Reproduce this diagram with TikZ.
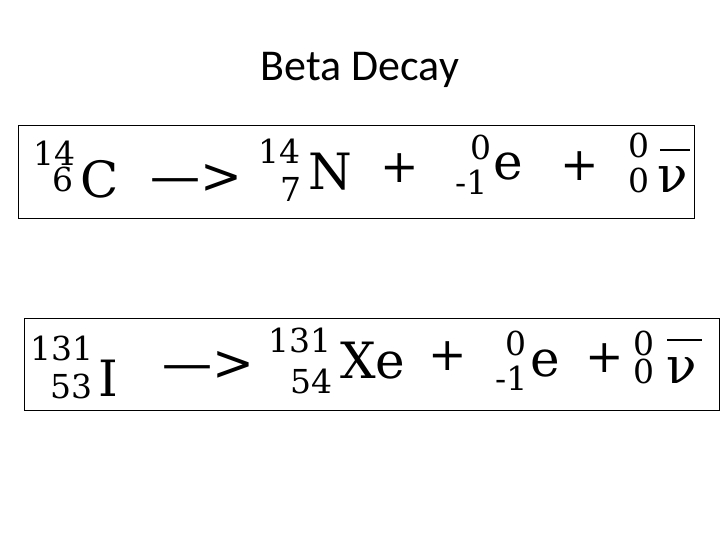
\documentclass[tikz,border=0pt]{standalone}
\usepackage{fontspec}
\setmainfont{DejaVu Serif}
\newfontfamily\titlefont{Carlito}
\begin{document}
\begin{tikzpicture}[x=1pt,y=-1pt,
  big/.style={anchor=base west,inner sep=0pt,font=\fontsize{50}{52}\selectfont},
  scr/.style={anchor=base west,inner sep=0pt,font=\fontsize{33}{35}\selectfont},
  pl/.style={inner sep=0pt,font=\fontsize{46}{48}\selectfont},
  frame/.style={draw=black,line width=0.8pt}]
\useasboundingbox (0,0) rectangle (720,540);
\node[font=\titlefont\fontsize{44}{48}\selectfont] (title) at (360,70) {Beta Decay};
\draw[frame] (18,125) rectangle (694,218);
\draw[frame] (24,318) rectangle (719,410);
% row 1
\node[scr] (a1) at (33,166) {14};
\node[scr] (a2) at (52,192) {6};
\node[big] (a3) at (80,197) {C};
\node[big] (ar1) at (150,194) {—>};
\node[scr] (b1) at (258,164) {14};
\node[scr] (b2) at (280,202) {7};
\node[big] (b3) at (308,190) {N};
\node[pl] (p1) at (400,168) {+};
\node[scr] (c1) at (470,160) {0};
\node[scr] (c2) at (455,195) {-1};
\node[big] (c3) at (493,180) {e};
\node[pl] (p2) at (580,166) {+};
\node[scr] (d1) at (628,158) {0};
\node[scr] (d2) at (628,193) {0};
\node[big] (d3) at (657,193) {ν};
\draw[line width=1.5pt] (660,150) -- (690,150);
% row 2
\node[scr] (e1) at (30,360) {131};
\node[scr] (e2) at (50,398) {53};
\node[big] (e3) at (98,396) {I};
\node[big] (ar2) at (162,380) {—>};
\node[scr] (f1) at (268,352) {131};
\node[scr] (f2) at (290,393) {54};
\node[big] (f3) at (340,378) {Xe};
\node[pl] (p3) at (448,356) {+};
\node[scr] (g1) at (505,355) {0};
\node[scr] (g2) at (495,390) {-1};
\node[big] (g3) at (530,376) {e};
\node[pl] (p4) at (605,358) {+};
\node[scr] (h1) at (633,355) {0};
\node[scr] (h2) at (633,383) {0};
\node[big] (h3) at (666,383) {ν};
\draw[line width=1.5pt] (667,340) -- (702,340);
\end{tikzpicture}
\end{document}
